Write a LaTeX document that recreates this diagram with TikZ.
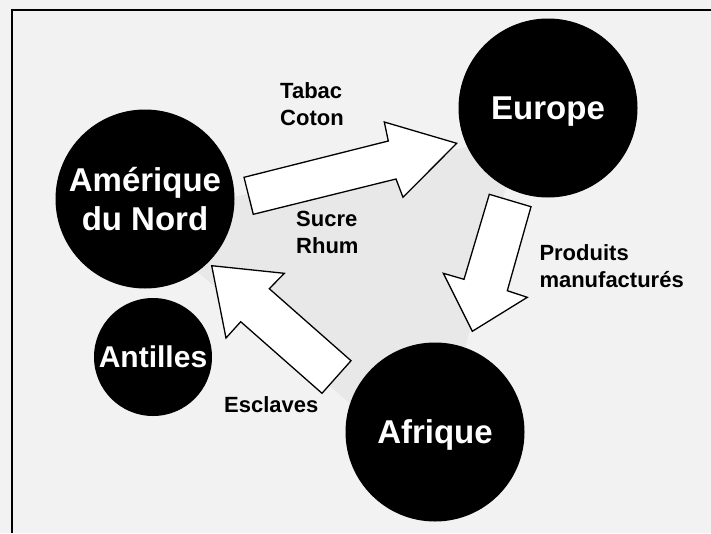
\documentclass[tikz,border=0pt]{standalone}
\usepackage{fontspec}
\setmainfont{Liberation Sans}
\definecolor{bggray}{HTML}{F2F2F2}
\definecolor{trigray}{HTML}{E8E8E8}
\tikzset{
  place/.style={circle,fill=black,draw=none,inner sep=0pt,text=white,
    font=\bfseries\fontsize{33}{39}\selectfont,align=center,text depth=0pt},
  smallplace/.style={place,font=\bfseries\fontsize{30}{36}\selectfont},
  goods/.style={inner sep=0pt,align=left,anchor=base west,
    font=\bfseries\fontsize{22}{27}\selectfont},
  blockarrow/.style={fill=white,draw=black,line width=1.3pt,line join=miter}
}
\begin{document}
\begin{tikzpicture}[x=1pt,y=-1pt]
\useasboundingbox (0,0) rectangle (711,533);
\fill[bggray] (0,0) rectangle (711,533);
% shaded triangle
\fill[trigray] (135,218) -- (519,136) -- (433,475) -- cycle;
% frame
\draw[line width=2pt] (12,533) -- (12,10) -- (711,10);
% places
\node[place,minimum size=179pt] (amerique) at (145,199) {Amérique\\du Nord};
\node[place,minimum size=179pt] (europe) at (548,108) {Europe};
\node[place,minimum size=179pt] (afrique) at (435,432) {Afrique};
\node[smallplace,minimum size=118pt] (antilles) at (153,357) {Antilles};
% block arrows
\draw[blockarrow] (244,177.3) -- (388.3,141) -- (384.3,122) -- (456.7,143.3)
  -- (403,197.3) -- (396,179) -- (253.3,214.3) -- cycle;
\draw[blockarrow] (489.3,194.3) -- (531,206.7) -- (507.3,290.7) -- (527.3,297.3)
  -- (472.3,331.3) -- (443.3,273.3) -- (464,279.3) -- cycle;
\draw[blockarrow] (351,360.7) -- (269.3,288.7) -- (284.3,273.3) -- (211.7,265.7)
  -- (226,338) -- (240.7,321.7) -- (322,393.3) -- cycle;
% goods labels (base anchor = baseline of last line)
\node[goods] (tabac) at (280,125.3) {Tabac\\Coton};
\node[goods] (sucre) at (296,253.6) {Sucre\\Rhum};
\node[goods] (produits) at (539.3,287.5) {Produits\\manufacturés};
\node[goods] (esclaves) at (224,412.3) {Esclaves};
\end{tikzpicture}
\end{document}
